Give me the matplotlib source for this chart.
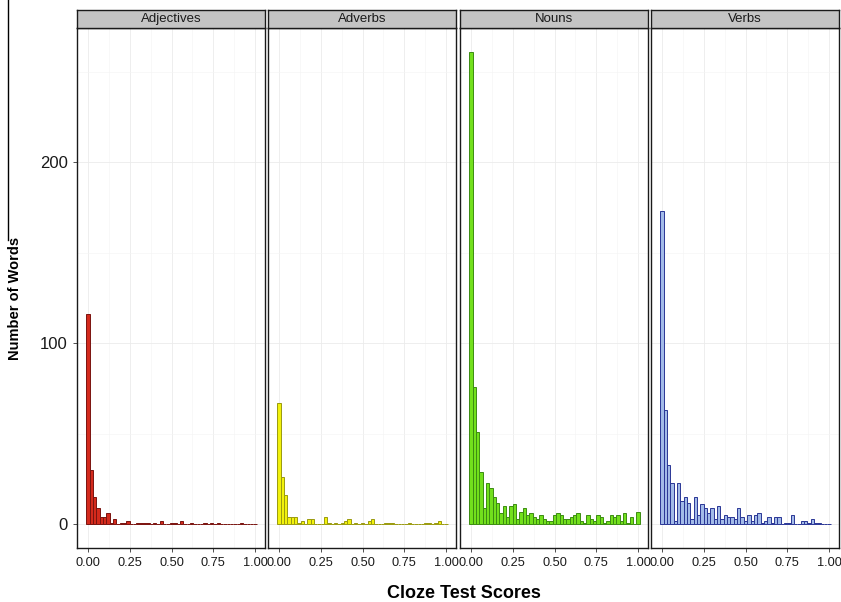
import matplotlib
matplotlib.use("Agg")
import matplotlib.pyplot as plt
import numpy as np

plt.rcParams['font.family'] = ['Liberation Sans', 'DejaVu Sans']

categories = ["Adjectives", "Adverbs", "Nouns", "Verbs"]
bin_centers = [round(i * 0.02, 2) for i in range(51)]

adjectives = [116, 30, 15, 9, 4, 4, 6, 1, 3, 0, 1, 1, 2, 0, 0, 1, 1, 1, 1, 0,
              1, 0, 2, 0, 0, 1, 1, 0, 2, 0, 0, 1, 0, 0, 0, 1, 0, 1, 0, 1,
              0, 0, 0, 0, 0, 0, 1, 0, 0, 0, 0]
adverbs = [67, 26, 16, 4, 4, 4, 1, 2, 0, 3, 3, 0, 0, 0, 4, 1, 0, 1, 0, 1,
           2, 3, 0, 1, 0, 1, 0, 2, 3, 0, 0, 0, 1, 1, 1, 0, 0, 0, 0, 1,
           0, 0, 0, 0, 1, 1, 0, 1, 2, 0, 0]
nouns = [261, 76, 51, 29, 9, 23, 20, 15, 12, 6, 10, 4, 10, 11, 3, 7, 9, 5, 6, 4,
         3, 5, 3, 2, 2, 5, 6, 5, 3, 3, 4, 5, 6, 2, 1, 5, 3, 2, 5, 4,
         1, 2, 5, 4, 5, 2, 6, 1, 4, 0, 7]
verbs = [173, 63, 33, 23, 2, 23, 13, 15, 12, 3, 15, 5, 11, 9, 6, 9, 3, 10, 3, 5,
         4, 4, 3, 9, 4, 2, 5, 2, 5, 6, 1, 2, 4, 1, 4, 4, 0, 1, 1, 5,
         0, 0, 2, 2, 1, 3, 1, 1, 0, 0, 0]

series = [adjectives, adverbs, nouns, verbs]
fills = ["#d42a1c", "#f2f20c", "#72e01c", "#a3bbe8"]
edges = ["#7a1410", "#9a9a10", "#3c8c12", "#2a3696"]

x_ticks = [0.0, 0.25, 0.5, 0.75, 1.0]
x_ticklabels = ["0.00", "0.25", "0.50", "0.75", "1.00"]
y_ticks = [0, 100, 200]

W, H = 841, 602
fig = plt.figure(figsize=(W / 100, H / 100), dpi=100)

panel_lefts = [77, 268, 460, 651]
panel_w = 188
top_px, bot_px, strip_top = 28, 548, 10

binw = 0.02
for i, (cat, vals) in enumerate(zip(categories, series)):
    l = panel_lefts[i]
    ax = fig.add_axes([l / W, (H - bot_px) / H, panel_w / W, (bot_px - top_px) / H])
    ax.bar(bin_centers, vals, width=binw, color=fills[i], edgecolor=edges[i],
           linewidth=0.7, zorder=3)
    ax.set_xlim(-0.066, 1.060)
    ax.set_ylim(-13.05, 274.05)
    ax.set_xticks(x_ticks)
    ax.set_xticklabels(x_ticklabels, fontsize=9.2, color="#1a1a1a")
    ax.set_xticks([0.125, 0.375, 0.625, 0.875], minor=True)
    ax.set_yticks([50, 150, 250], minor=True)
    ax.set_yticks(y_ticks)
    if i == 0:
        ax.set_yticklabels([str(v) for v in y_ticks], fontsize=12, color="#1a1a1a")
    else:
        ax.tick_params(axis='y', which='both', left=False, labelleft=False)
    ax.tick_params(axis='x', which='minor', bottom=False)
    ax.tick_params(axis='y', which='minor', left=False)
    ax.tick_params(axis='both', which='major', length=3, width=0.6, color="#333333")
    ax.grid(True, which='major', color="#ebebeb", linewidth=0.6, zorder=0)
    ax.grid(True, which='minor', color="#f4f4f4", linewidth=0.4, zorder=0)
    for s in ax.spines.values():
        s.set_color("#1a1a1a")
        s.set_linewidth(1.0)
    # strip
    sax = fig.add_axes([l / W, (H - top_px) / H, panel_w / W, (top_px - strip_top) / H])
    sax.set_facecolor("#c4c4c4")
    sax.set_xticks([])
    sax.set_yticks([])
    for s in sax.spines.values():
        s.set_color("#1a1a1a")
        s.set_linewidth(1.0)
    sax.text(0.5, 0.5, cat, ha='center', va='center', fontsize=9.5,
             color="#1a1a1a", transform=sax.transAxes)

fig.text(464 / W, 1 - 594 / H, "Cloze Test Scores", ha='center', va='center',
         fontsize=13, fontweight='bold')
fig.text(15 / W, 1 - 298 / H, "Number of Words", ha='center', va='center',
         rotation=90, fontsize=10.5, fontweight='bold')
fig.add_artist(plt.Line2D([8 / W, 8 / W], [1.0, 1 - 240 / H], color="black",
                          linewidth=1.0, transform=fig.transFigure))

fig.savefig("out.png", dpi=100, facecolor="white")
